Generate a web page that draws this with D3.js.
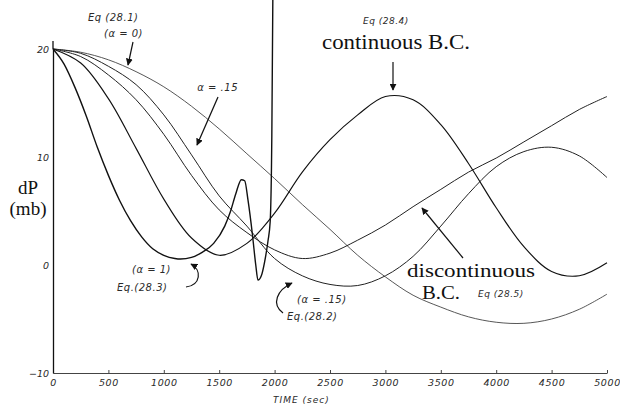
<!DOCTYPE html>
<html>
<head>
<meta charset="utf-8">
<script src="https://cdn.jsdelivr.net/npm/d3@7"></script>
<style>
  body { margin: 0; background: #fff; }
  svg { display: block; }
  .hand { font-family: "DejaVu Sans", sans-serif; font-style: italic; fill: #2a2a2a; }
  .serif { font-family: "Liberation Serif", "Times New Roman", serif; fill: #111; }
</style>
</head>
<body>
<svg id="chart" width="620" height="408"></svg>
<script>
// Sample times (s) shared by the smooth solutions
const times = [0, 250, 500, 750, 1000, 1250, 1500, 1750, 2000, 2250, 2500,
               2750, 3000, 3250, 3500, 3750, 4000, 4250, 4500, 4750, 5000];

// Eq (28.1), alpha = 0
const eq281 = [20.0, 19.7, 19.0, 17.9, 16.5, 14.7, 12.6, 10.3, 8.0, 5.6, 3.3,
               0.9, -1.1, -2.8, -3.9, -4.8, -5.3, -5.4, -5.0, -4.1, -2.7];
// Eq (28.2), alpha = .15
const eq282 = [20.0, 19.6, 18.4, 16.7, 13.9, 10.2, 6.4, 3.6, 0.6, -1.0, -1.8,
               -1.9, -1.0, 0.8, 3.6, 6.6, 9.1, 10.5, 10.9, 10.1, 8.1];
// Eq (28.4), continuous B.C.
const eq284 = [20.0, 18.7, 15.4, 10.8, 6.1, 2.5, 0.9, 2.0, 4.8, 8.6, 11.6,
               13.9, 15.6, 15.3, 13.0, 9.4, 5.3, 1.7, -0.6, -1.0, 0.2];
// Eq (28.5), discontinuous B.C.
const eq285 = [20.0, 19.3, 17.6, 15.3, 12.1, 8.3, 5.1, 3.0, 1.4, 0.6, 1.1,
               2.3, 3.7, 5.4, 7.0, 8.6, 9.9, 11.4, 12.9, 14.4, 15.6];

// Eq (28.3), alpha = 1 : oscillates and blows up near t = 2000 s
const eq283Time = [0, 100, 200, 300, 400, 500, 600, 700, 800, 900, 1000, 1100,
                   1150, 1250, 1350, 1450, 1550, 1600, 1650, 1700, 1730, 1760,
                   1800, 1830, 1850, 1880, 1910, 1940, 1960, 1975, 1985];
const eq283 = [20.0, 18.6, 16.4, 13.8, 10.9, 8.3, 6.0, 4.1, 2.6, 1.5, 0.9, 0.6,
               0.55, 0.7, 1.2, 2.0, 3.6, 4.9, 6.6, 7.9, 7.8, 6.0,
               2.8, 0.0, -1.4, -1.0, 0.3, 2.2, 4.0, 12, 26];

const xTicks = [0, 500, 1000, 1500, 2000, 2500, 3000, 3500, 4000, 4500, 5000];
const yTicks = [-10, 0, 10, 20];

const svg = d3.select("#chart");
const x = d3.scaleLinear().domain([0, 5000]).range([53, 607]);
const y = d3.scaleLinear().domain([-10, 20]).range([373, 49]);

// arrowhead marker
svg.append("defs").append("marker")
  .attr("id", "head").attr("viewBox", "0 0 10 10")
  .attr("refX", 9).attr("refY", 5)
  .attr("markerWidth", 7).attr("markerHeight", 7)
  .attr("markerUnits", "userSpaceOnUse")
  .attr("orient", "auto")
  .append("path").attr("d", "M0,0 L10,5 L0,10 Z").attr("fill", "#111");

// axes
const xAxis = svg.append("g").attr("transform", `translate(0,${y(-10)})`)
  .call(d3.axisBottom(x).tickValues(xTicks).tickSizeInner(-3).tickSizeOuter(0)
        .tickPadding(6).tickFormat(d3.format("d")));
xAxis.select(".domain").attr("stroke", "#444").attr("stroke-width", 1);
xAxis.selectAll(".tick line").attr("stroke", "#444");
xAxis.selectAll("text").attr("class", "hand").attr("font-size", 9.5)
  .attr("letter-spacing", 0.6);

const yAxis = svg.append("g").attr("transform", `translate(${x(0)},0)`)
  .call(d3.axisLeft(y).tickValues(yTicks).tickSize(0).tickPadding(4)
        .tickFormat(d3.format("d")));
yAxis.select(".domain").attr("stroke", "#111").attr("stroke-width", 1.3);
yAxis.selectAll("text").attr("class", "hand").attr("font-size", 9.5);
// short extension of the vertical axis above the top tick
svg.append("line").attr("x1", x(0)).attr("x2", x(0))
  .attr("y1", y(20)).attr("y2", y(20) - 8)
  .attr("stroke", "#111").attr("stroke-width", 1.3);

// curves
const smooth = d3.line().x(d => x(d[0])).y(d => y(d[1])).curve(d3.curveCatmullRom.alpha(0.5));
const steep = d3.line().x(d => x(d[0])).y(d => y(d[1])).curve(d3.curveMonotoneX);

const series = [
  { vals: eq281, t: times, w: 0.9, c: "#444", gen: smooth },
  { vals: eq282, t: times, w: 1.0, c: "#222", gen: smooth },
  { vals: eq285, t: times, w: 1.0, c: "#222", gen: smooth },
  { vals: eq284, t: times, w: 1.15, c: "#111", gen: smooth },
  { vals: eq283, t: eq283Time, w: 1.4, c: "#111", gen: steep }
];
series.forEach(s => {
  svg.append("path")
    .datum(s.t.map((t, i) => [t, s.vals[i]]))
    .attr("fill", "none").attr("stroke", s.c).attr("stroke-width", s.w)
    .attr("d", s.gen);
});

// annotation helpers
function handText(px, py, str, size, anchor) {
  svg.append("text").attr("class", "hand").attr("x", px).attr("y", py)
    .attr("font-size", size).attr("letter-spacing", 0.5)
    .attr("text-anchor", anchor || "start").text(str);
}
function arrow(d) {
  svg.append("path").attr("d", d).attr("fill", "none").attr("stroke", "#111")
    .attr("stroke-width", 1.2).attr("marker-end", "url(#head)");
}
function serifText(px, py, str, len, size) {
  svg.append("text").attr("class", "serif").attr("x", px).attr("y", py)
    .attr("font-size", size).attr("textLength", len)
    .attr("lengthAdjust", "spacingAndGlyphs").text(str);
}

// Eq (28.1), alpha = 0
handText(88, 21, "Eq (28.1)", 10);
handText(104, 37, "(α = 0)", 10);
arrow("M133,42 L128,65");

// alpha = .15 (upper)
handText(238, 91, "α = .15", 10, "end");
arrow("M218,97 L197,145");

// Eq (28.4) continuous B.C.
handText(363, 24, "Eq (28.4)", 9);
serifText(322, 49, "continuous B.C.", 148, 22);
arrow("M393,62 L393,90");

// Eq (28.3), alpha = 1
handText(132, 273, "(α = 1)", 10);
handText(117, 291, "Eq.(28.3)", 10);
arrow("M186,287 C201,285 202,270 191,264");

// Eq (28.2), alpha = .15
handText(297, 303, "(α = .15)", 10);
handText(287, 320, "Eq.(28.2)", 10);
arrow("M283,313 C271,304 277,290 292,283");

// Eq (28.5) discontinuous B.C.
serifText(407, 277, "discontinuous", 128, 19);
serifText(422, 299, "B.C.", 38, 19);
handText(478, 297, "Eq (28.5)", 9);
arrow("M463,258 L422,208");

// axis titles
svg.append("text").attr("class", "hand").attr("x", 273).attr("y", 403)
  .attr("font-size", 9).attr("letter-spacing", 1).text("TIME (sec)");
svg.append("text").attr("class", "serif").attr("x", 28).attr("y", 194)
  .attr("font-size", 19).attr("text-anchor", "middle").text("dP");
svg.append("text").attr("class", "serif").attr("x", 28).attr("y", 215)
  .attr("font-size", 19).attr("text-anchor", "middle").text("(mb)");
</script>
</body>
</html>
